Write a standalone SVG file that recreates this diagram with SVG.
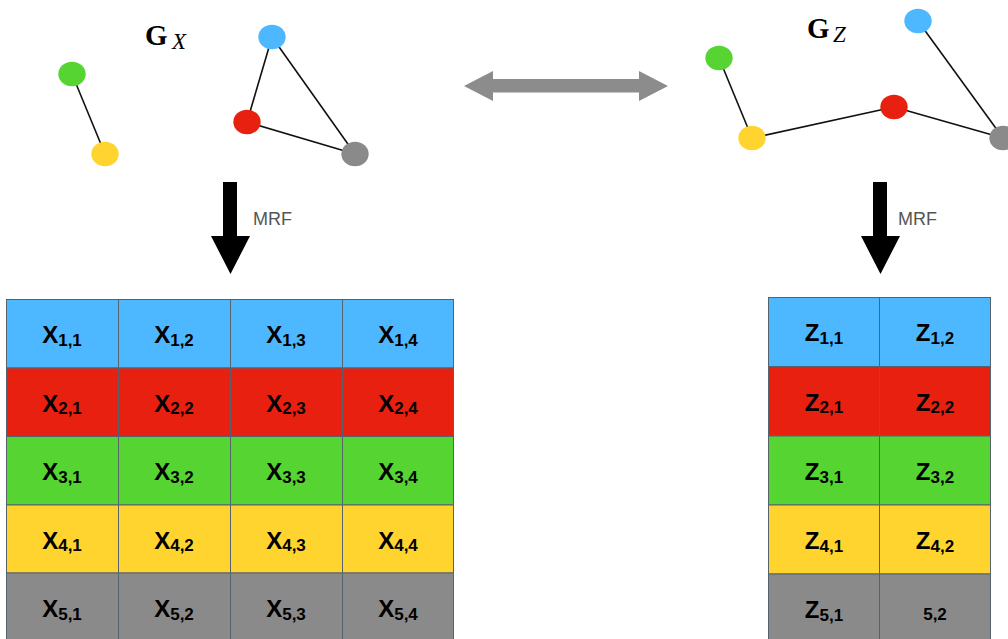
<svg xmlns="http://www.w3.org/2000/svg" width="1008" height="639" viewBox="0 0 1008 639">
<style>
.edge{stroke:#111;stroke-width:1.6;fill:none}
.cell{stroke:#56626c;stroke-width:1}
.blue{fill:#4db8ff}.red{fill:#e8200f}.green{fill:#55d432}.yellow{fill:#ffd42e}.gray{fill:#8a8a8a}
.lbl{font-family:"Liberation Sans",Arial,sans-serif;font-weight:bold;font-size:24px;fill:#000;text-anchor:middle}
.sub{font-size:17px}
.mrf{font-family:"Liberation Sans",Arial,sans-serif;font-size:18px;fill:#555}
.g{font-family:"Liberation Serif","Times New Roman",serif;fill:#000}
</style>
<rect width="1008" height="639" fill="#fff"/>
<g id="connectors">
  <line class="edge" x1="72" y1="74" x2="105" y2="154"/>
  <line class="edge" x1="272" y1="37" x2="247" y2="122"/>
  <line class="edge" x1="272" y1="37" x2="355" y2="154"/>
  <line class="edge" x1="247" y1="122" x2="355" y2="154"/>
  <line class="edge" x1="719" y1="58" x2="752" y2="138"/>
  <line class="edge" x1="752" y1="138" x2="894" y2="107"/>
  <line class="edge" x1="894" y1="107" x2="1003" y2="138"/>
  <line class="edge" x1="918" y1="21" x2="1003" y2="138"/>
  <polygon id="double-arrow" fill="#8c8c8c" points="464,86 493,71 493,79 639,79 639,71 668,86 639,101 639,92.5 493,92.5 493,101"/>
  <polygon id="mrf-arrow-left" fill="#000" points="223,182 237,182 237,236 250,236 230.5,274 211,236 223,236"/>
  <polygon id="mrf-arrow-right" fill="#000" points="873,182 887,182 887,236 900,236 880.5,274 861,236 873,236"/>
</g>
<text class="mrf" x="253" y="225">MRF</text>
<text class="mrf" x="898" y="225">MRF</text>
<g id="label-gx"><text class="g" x="145" y="45" font-size="29" font-weight="bold">G</text><text class="g" x="172" y="49" font-size="23" font-style="italic">X</text></g>
<g id="label-gz"><text class="g" x="807" y="38" font-size="29" font-weight="bold">G</text><text class="g" x="833" y="42" font-size="23" font-style="italic">Z</text></g>
<g id="gx-green"><ellipse class="green" cx="72" cy="74" rx="13.7" ry="12.2"/></g>
<g id="gx-yellow"><ellipse class="yellow" cx="105" cy="154" rx="13.7" ry="12.2"/></g>
<g id="gx-blue"><ellipse class="blue" cx="272" cy="37" rx="13.7" ry="12.2"/></g>
<g id="gx-red"><ellipse class="red" cx="247" cy="122" rx="13.7" ry="12.2"/></g>
<g id="gx-gray"><ellipse class="gray" cx="355" cy="154" rx="13.7" ry="12.2"/></g>
<g id="gz-green"><ellipse class="green" cx="719" cy="58" rx="13.7" ry="12.2"/></g>
<g id="gz-yellow"><ellipse class="yellow" cx="752" cy="138" rx="13.7" ry="12.2"/></g>
<g id="gz-red"><ellipse class="red" cx="894" cy="107" rx="13.7" ry="12.2"/></g>
<g id="gz-blue"><ellipse class="blue" cx="918" cy="21" rx="13.7" ry="12.2"/></g>
<g id="gz-gray"><ellipse class="gray" cx="1003" cy="138" rx="13.7" ry="12.2"/></g>

<g id="table-x">
  <rect class="cell blue" x="6.5" y="299.5" width="112" height="68.5"/><rect class="cell blue" x="118.5" y="299.5" width="112" height="68.5"/><rect class="cell blue" x="230.5" y="299.5" width="112" height="68.5"/><rect class="cell blue" x="342.5" y="299.5" width="111" height="68.5"/>
  <rect class="cell red" x="6.5" y="368" width="112" height="68.5"/><rect class="cell red" x="118.5" y="368" width="112" height="68.5"/><rect class="cell red" x="230.5" y="368" width="112" height="68.5"/><rect class="cell red" x="342.5" y="368" width="111" height="68.5"/>
  <rect class="cell green" x="6.5" y="436.5" width="112" height="68.5"/><rect class="cell green" x="118.5" y="436.5" width="112" height="68.5"/><rect class="cell green" x="230.5" y="436.5" width="112" height="68.5"/><rect class="cell green" x="342.5" y="436.5" width="111" height="68.5"/>
  <rect class="cell yellow" x="6.5" y="505" width="112" height="68"/><rect class="cell yellow" x="118.5" y="505" width="112" height="68"/><rect class="cell yellow" x="230.5" y="505" width="112" height="68"/><rect class="cell yellow" x="342.5" y="505" width="111" height="68"/>
  <rect class="cell gray" x="6.5" y="573" width="112" height="70"/><rect class="cell gray" x="118.5" y="573" width="112" height="70"/><rect class="cell gray" x="230.5" y="573" width="112" height="70"/><rect class="cell gray" x="342.5" y="573" width="111" height="70"/>
  <text class="lbl" x="62" y="343">X<tspan class="sub" dy="2.5">1,1</tspan></text>
  <text class="lbl" x="174" y="343">X<tspan class="sub" dy="2.5">1,2</tspan></text>
  <text class="lbl" x="286" y="343">X<tspan class="sub" dy="2.5">1,3</tspan></text>
  <text class="lbl" x="398" y="343">X<tspan class="sub" dy="2.5">1,4</tspan></text>
  <text class="lbl" x="62" y="411.5">X<tspan class="sub" dy="2.5">2,1</tspan></text>
  <text class="lbl" x="174" y="411.5">X<tspan class="sub" dy="2.5">2,2</tspan></text>
  <text class="lbl" x="286" y="411.5">X<tspan class="sub" dy="2.5">2,3</tspan></text>
  <text class="lbl" x="398" y="411.5">X<tspan class="sub" dy="2.5">2,4</tspan></text>
  <text class="lbl" x="62" y="480">X<tspan class="sub" dy="2.5">3,1</tspan></text>
  <text class="lbl" x="174" y="480">X<tspan class="sub" dy="2.5">3,2</tspan></text>
  <text class="lbl" x="286" y="480">X<tspan class="sub" dy="2.5">3,3</tspan></text>
  <text class="lbl" x="398" y="480">X<tspan class="sub" dy="2.5">3,4</tspan></text>
  <text class="lbl" x="62" y="548.5">X<tspan class="sub" dy="2.5">4,1</tspan></text>
  <text class="lbl" x="174" y="548.5">X<tspan class="sub" dy="2.5">4,2</tspan></text>
  <text class="lbl" x="286" y="548.5">X<tspan class="sub" dy="2.5">4,3</tspan></text>
  <text class="lbl" x="398" y="548.5">X<tspan class="sub" dy="2.5">4,4</tspan></text>
  <text class="lbl" x="62" y="617">X<tspan class="sub" dy="2.5">5,1</tspan></text>
  <text class="lbl" x="174" y="617">X<tspan class="sub" dy="2.5">5,2</tspan></text>
  <text class="lbl" x="286" y="617">X<tspan class="sub" dy="2.5">5,3</tspan></text>
  <text class="lbl" x="398" y="617">X<tspan class="sub" dy="2.5">5,4</tspan></text>
</g>

<g id="table-z">
  <rect class="cell blue" x="768.5" y="297.5" width="111" height="69"/><rect class="cell blue" x="879.5" y="297.5" width="111" height="69"/>
  <rect class="cell red" x="768.5" y="366.5" width="111" height="69.5"/><rect class="cell red" x="879.5" y="366.5" width="111" height="69.5"/>
  <rect class="cell green" x="768.5" y="436" width="111" height="69"/><rect class="cell green" x="879.5" y="436" width="111" height="69"/>
  <rect class="cell yellow" x="768.5" y="505" width="111" height="69"/><rect class="cell yellow" x="879.5" y="505" width="111" height="69"/>
  <rect class="cell gray" x="768.5" y="574" width="111" height="70"/><rect class="cell gray" x="879.5" y="574" width="111" height="70"/>
  <text class="lbl" x="824" y="341">Z<tspan class="sub" dy="2.5">1,1</tspan></text>
  <text class="lbl" x="935" y="341">Z<tspan class="sub" dy="2.5">1,2</tspan></text>
  <text class="lbl" x="824" y="410.5">Z<tspan class="sub" dy="2.5">2,1</tspan></text>
  <text class="lbl" x="935" y="410.5">Z<tspan class="sub" dy="2.5">2,2</tspan></text>
  <text class="lbl" x="824" y="480">Z<tspan class="sub" dy="2.5">3,1</tspan></text>
  <text class="lbl" x="935" y="480">Z<tspan class="sub" dy="2.5">3,2</tspan></text>
  <text class="lbl" x="824" y="549">Z<tspan class="sub" dy="2.5">4,1</tspan></text>
  <text class="lbl" x="935" y="549">Z<tspan class="sub" dy="2.5">4,2</tspan></text>
  <text class="lbl" x="824" y="618">Z<tspan class="sub" dy="2.5">5,1</tspan></text>
  <text class="lbl sub" x="935" y="620">5,2</text>
</g>
</svg>
